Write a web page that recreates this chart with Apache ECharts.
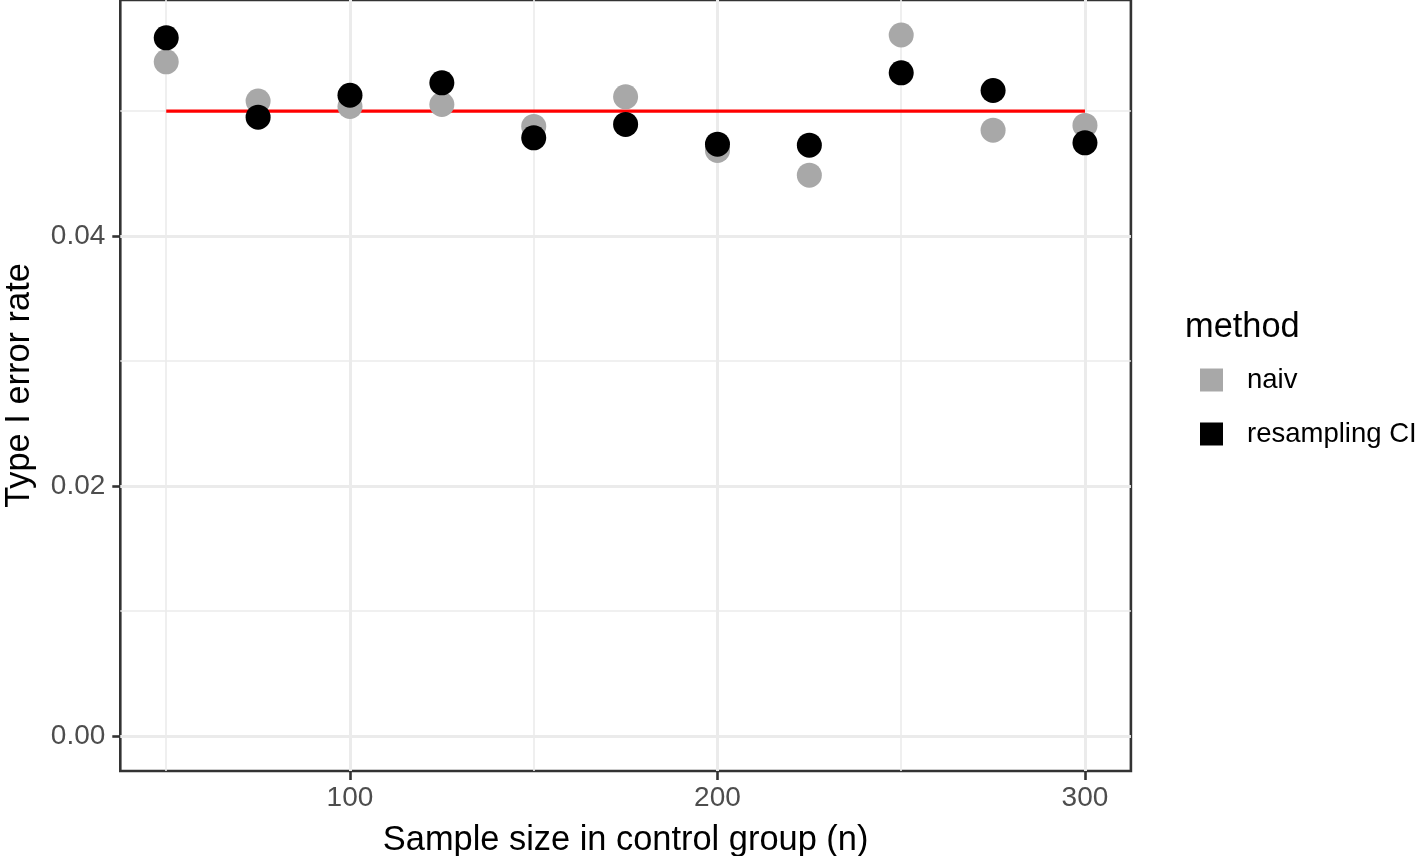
<!DOCTYPE html>
<html><head><meta charset="utf-8">
<script src="https://cdn.jsdelivr.net/npm/echarts@6/dist/echarts.min.js"></script>
<style>html,body{margin:0;padding:0;background:#fff}#c{width:1418px;height:856px}</style>
</head><body><div id="c"></div>
<script>
const sampleSizes = [50, 75, 100, 125, 150, 175, 200, 225, 250, 275, 300];
const naiv = [0.05395, 0.05082, 0.05038, 0.05054, 0.04878, 0.05115, 0.04686, 0.04488, 0.05610, 0.04848, 0.04886];
const resampling = [0.05587, 0.04952, 0.05128, 0.05227, 0.04787, 0.04894, 0.04736, 0.04728, 0.05307, 0.05166, 0.04747];
const nominalLevel = 0.05;
const xTicks = [100, 200, 300];
const xMinor = [50, 150, 250];
const yTicks = [0, 0.02, 0.04];
const yMinor = [0.01, 0.03, 0.05];
const seriesNames = ['naiv', 'resampling CI'];
const legendTitle = 'method';
const xTitle = 'Sample size in control group (n)';
const yTitle = 'Type I error rate';

const FONT = "'Liberation Sans', Arial, Helvetica, sans-serif";
const chart = echarts.init(document.getElementById('c'), null, {renderer: 'canvas'});

const major = () => ({color: '#EBEBEB', width: 3, type: 'solid', opacity: 1});
const minor = () => ({color: '#EBEBEB', width: 1.6, type: 'solid', opacity: 1});
const gridLines = [].concat(
  xMinor.map(v => ({xAxis: v, lineStyle: minor()})),
  yMinor.map(v => ({yAxis: v, lineStyle: minor()})),
  xTicks.map(v => ({xAxis: v, lineStyle: major()})),
  yTicks.map(v => ({yAxis: v, lineStyle: major()}))
);

chart.setOption({
  animation: false,
  backgroundColor: '#fff',
  textStyle: {fontFamily: FONT},
  grid: {left: 120.3, right: 287.1, top: 0, bottom: 85, show: true,
         borderColor: '#333333', borderWidth: 2.6, backgroundColor: '#fff',
         containLabel: false, outerBoundsMode: 'none'},
  xAxis: {
    type: 'value', min: 37.5, max: 312.5,
    axisLine: {show: false, onZero: false},
    axisTick: {show: true, customValues: xTicks, length: 9, lineStyle: {color: '#333333', width: 2.6}},
    minorTick: {show: false},
    axisLabel: {customValues: xTicks, margin: 13, color: '#4D4D4D', fontSize: 28, fontFamily: FONT,
                formatter: v => String(v)},
    splitLine: {show: false},
    name: xTitle, nameLocation: 'middle', nameGap: 53,
    nameTextStyle: {color: '#000', fontSize: 34.4, fontFamily: FONT}
  },
  yAxis: {
    type: 'value', min: -0.0028, max: 0.0589,
    axisLine: {show: false, onZero: false},
    axisTick: {show: true, customValues: yTicks, length: 8, lineStyle: {color: '#333333', width: 2.6}},
    minorTick: {show: false},
    axisLabel: {customValues: yTicks, margin: 15, color: '#4D4D4D', fontSize: 28, fontFamily: FONT,
                formatter: v => v.toFixed(2)},
    splitLine: {show: false},
    name: yTitle, nameLocation: 'middle', nameGap: 84, nameRotate: 90,
    nameTextStyle: {color: '#000', fontSize: 34.4, fontFamily: FONT}
  },
  legend: {
    data: seriesNames, orient: 'vertical', left: 1200, top: 366, padding: 0,
    icon: 'rect', itemWidth: 23, itemHeight: 23, itemGap: 26,
    itemStyle: {opacity: 1},
    textStyle: {fontSize: 27.5, color: '#000', fontFamily: FONT, padding: [0, 0, 0, 19]}
  },
  graphic: [{
    type: 'text', left: 1185, top: 311,
    style: {text: legendTitle, fontSize: 34.4, fill: '#000', fontFamily: FONT}
  }],
  series: [
    {
      name: 'grid', type: 'line', data: [], z: 1, silent: true,
      markLine: {silent: true, z: 1, symbol: ['none', 'none'], label: {show: false}, animation: false,
                 lineStyle: {color: '#EBEBEB', width: 1.6, type: 'solid'},
                 emphasis: {disabled: true}, data: gridLines}
    },
    {
      name: 'nominal', type: 'line', z: 2, symbol: 'none', silent: true,
      data: [[sampleSizes[0], nominalLevel], [sampleSizes[sampleSizes.length - 1], nominalLevel]],
      lineStyle: {color: '#FF0000', width: 3.3, opacity: 1}
    },
    {
      name: seriesNames[0], type: 'scatter', z: 3, symbolSize: 25,
      itemStyle: {color: '#A8A8A8', opacity: 1},
      data: sampleSizes.map((n, i) => [n, naiv[i]])
    },
    {
      name: seriesNames[1], type: 'scatter', z: 4, symbolSize: 25,
      itemStyle: {color: '#000000', opacity: 1},
      data: sampleSizes.map((n, i) => [n, resampling[i]])
    }
  ]
});
</script>
</body></html>
